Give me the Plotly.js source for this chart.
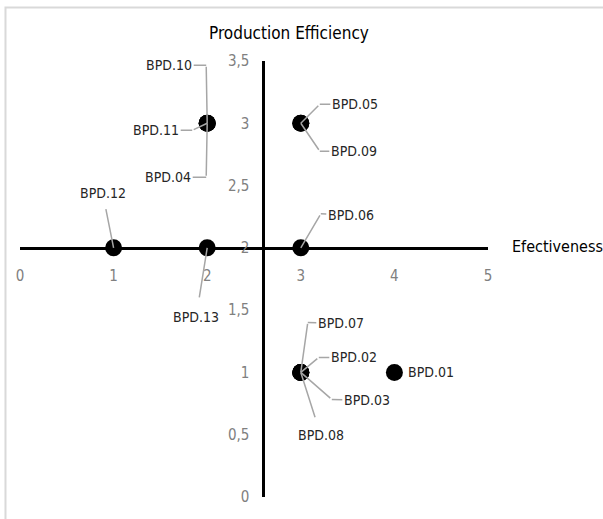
<!DOCTYPE html>
<html>
<head>
<meta charset="utf-8">
<script src="https://cdn.plot.ly/plotly-3.0.1.min.js"></script>
<style>html,body{margin:0;padding:0;background:#fff;}#chart{width:603px;height:519px;}</style>
</head>
<body>
<div id="chart"></div>
<script>
// ---- data ----
const labels = ['BPD.01','BPD.02','BPD.03','BPD.04','BPD.05','BPD.06','BPD.07','BPD.08','BPD.09','BPD.10','BPD.11','BPD.12','BPD.13'];
const effectiveness = [4, 3, 3, 2, 3, 3, 3, 3, 3, 2, 2, 1, 2];
const efficiency    = [1, 1, 1, 3, 3, 2, 1, 1, 3, 3, 3, 2, 2];
const xTickVals = [0, 1, 2, 3, 4, 5];
const yTickVals = [0, 0.5, 1, 1.5, 2, 2.5, 3, 3.5];
const xTitle = 'Efectiveness';
const yTitle = 'Production Efficiency';

// ---- label placement (pixel offsets from the point: label centre, optional elbow) ----
const placement = {
  'BPD.01': {side: true, dx: 12},
  'BPD.02': {l: [53, -15], e: [18, -15]},
  'BPD.03': {l: [66, 28],  e: [31, 27]},
  'BPD.04': {l: [-39, 54], e: [-1, 54]},
  'BPD.05': {l: [54, -19], e: [19, -19]},
  'BPD.06': {l: [50, -33], e: [20, -34]},
  'BPD.07': {l: [40, -49], e: [7, -50]},
  'BPD.08': {l: [20, 63],  gap: 9},
  'BPD.09': {l: [53, 28],  e: [19, 28]},
  'BPD.10': {l: [-38, -58], e: [-1, -58]},
  'BPD.11': {l: [-51, 7],  e: [-15, 7]},
  'BPD.12': {l: [-11, -55], gap: 7},
  'BPD.13': {l: [-11, 69], gap: 10}
};

const FONT = '"DejaVu Sans Condensed", "Liberation Sans Narrow", sans-serif';
const leader = {color: '#a6a6a6', width: 1.5};
const labelFont = {family: FONT, size: 14, color: '#262626'};

const annotations = [];
labels.forEach((name, i) => {
  const x = effectiveness[i], y = efficiency[i];
  const p = placement[name];
  if (p.side) {
    annotations.push({x, y, xref: 'x', yref: 'y', text: name, showarrow: false,
      xanchor: 'left', yanchor: 'middle', xshift: p.dx, font: labelFont});
    return;
  }
  if (p.e) {
    annotations.push({x, y, xref: 'x', yref: 'y', text: name, font: labelFont,
      showarrow: true, arrowhead: 0, arrowwidth: leader.width, arrowcolor: leader.color,
      xshift: p.e[0], yshift: -p.e[1], ax: p.l[0] - p.e[0], ay: p.l[1] - p.e[1]});
    annotations.push({x, y, xref: 'x', yref: 'y', text: '',
      showarrow: true, arrowhead: 0, arrowwidth: leader.width, arrowcolor: leader.color,
      ax: p.e[0], ay: p.e[1]});
  } else {
    annotations.push({x, y, xref: 'x', yref: 'y', text: name, font: labelFont,
      showarrow: true, arrowhead: 0, arrowwidth: leader.width, arrowcolor: leader.color,
      startstandoff: p.gap || 0, ax: p.l[0], ay: p.l[1]});
  }
});

annotations.push({xref: 'paper', yref: 'paper', x: 0.5748, y: 1.064, text: yTitle,
  showarrow: false, xanchor: 'center', yanchor: 'middle',
  font: {family: FONT, size: 17, color: '#000000'}});
annotations.push({xref: 'paper', yref: 'paper', x: 1.047, y: 0.5734, text: xTitle,
  showarrow: false, xanchor: 'left', yanchor: 'middle',
  font: {family: FONT, size: 16, color: '#000000'}});

const trace = {
  type: 'scatter', mode: 'markers',
  x: effectiveness, y: efficiency, text: labels,
  marker: {color: '#000000', size: 17, line: {width: 0}},
  hoverinfo: 'text', cliponaxis: false
};

const tickFont = {family: FONT, size: 15, color: '#808080'};
const layout = {
  width: 603, height: 519,
  margin: {l: 20, r: 115, t: 61, b: 22, pad: 0},
  paper_bgcolor: '#ffffff', plot_bgcolor: '#ffffff',
  showlegend: false,
  separators: ', ',
  xaxis: {
    range: [0, 5], tickvals: xTickVals, showgrid: false, zeroline: false,
    showline: true, linecolor: '#000000', linewidth: 3,
    anchor: 'free', position: 2 / 3.5,
    ticks: 'outside', ticklen: 13, tickcolor: 'rgba(0,0,0,0)',
    tickfont: tickFont, fixedrange: true
  },
  yaxis: {
    range: [0, 3.5], tickvals: yTickVals, showgrid: false, zeroline: false,
    showline: true, linecolor: '#000000', linewidth: 3,
    anchor: 'free', position: 2.6 / 5,
    ticks: 'outside', ticklen: 10, tickcolor: 'rgba(0,0,0,0)',
    tickfont: tickFont, fixedrange: true
  },
  shapes: [{type: 'rect', xref: 'paper', yref: 'paper',
    x0: -0.031, x1: 1.4, y0: -0.1, y1: 1.1225,
    line: {color: '#d9d9d9', width: 2}, fillcolor: 'rgba(0,0,0,0)', layer: 'below'}],
  annotations: annotations
};

Plotly.newPlot('chart', [trace], layout, {displayModeBar: false, staticPlot: true});
</script>
</body>
</html>
